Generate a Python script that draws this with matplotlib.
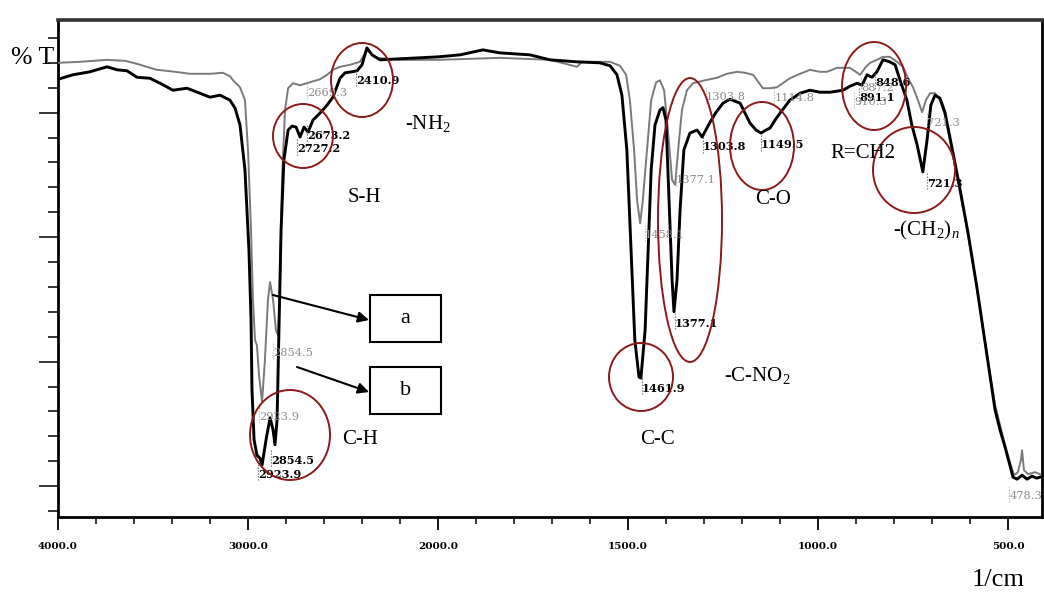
import numpy as np
import matplotlib
matplotlib.use("Agg")
import matplotlib.pyplot as plt
from matplotlib.patches import Ellipse, Rectangle, FancyArrowPatch

plt.rcParams['mathtext.fontset'] = 'custom'
plt.rcParams['mathtext.rm'] = 'Liberation Serif'
plt.rcParams['mathtext.it'] = 'Liberation Serif:italic'

# ---------------- data (wavenumber 1/cm, transmittance arbitrary %T) ----------------
wn_b = [4000, 3921, 3832, 3742, 3689, 3637, 3584, 3516, 3463, 3395, 3321, 3253, 3200, 3147,
        3095, 3068, 3042, 3016, 2995, 2984, 2979, 2968, 2953, 2937, 2926, 2905, 2884, 2868,
        2858, 2847, 2837, 2826, 2811, 2789, 2768, 2747, 2726, 2705, 2684, 2658, 2621, 2584,
        2553, 2516, 2489, 2453, 2426, 2400, 2374, 2347, 2305, 2200, 2095, 2000, 1942, 1882,
        1837, 1758, 1705, 1634, 1574, 1547, 1529, 1516, 1503, 1492, 1482, 1471, 1466, 1455,
        1447, 1439, 1429, 1416, 1408, 1400, 1392, 1384, 1379, 1371, 1363, 1353, 1337, 1318,
        1305, 1284, 1268, 1250, 1232, 1205, 1179, 1163, 1150, 1137, 1126, 1113, 1100, 1074,
        1047, 1021, 995, 968, 934, 916, 897, 884, 871, 858, 845, 829, 811, 797, 784, 766,
        753, 739, 724, 713, 703, 692, 679, 666, 653, 640, 626, 605, 582, 556, 534, 521, 508,
        495, 487, 476, 463, 450, 437, 424, 416]
t_b = [86.7, 87.6, 88.2, 89.2, 88.6, 88.4, 87.1, 86.9, 85.9, 84.5, 84.9, 83.9, 83.1, 83.5,
       82.5, 80.9, 77.5, 68.5, 52.4, 38.4, 24.3, 14.3, 11.2, 10.6, 9.2, 14.3, 18.7, 16.3,
       13.3, 18.3, 36.3, 56.4, 70.5, 76.5, 77.3, 77.1, 75.1, 77.1, 76.1, 78.5, 79.9, 81.5,
       83.1, 86.9, 88.0, 88.2, 88.4, 89.6, 93.0, 91.6, 90.6, 90.8, 91.0, 91.2, 91.6, 92.6,
       92.0, 91.6, 90.6, 90.2, 90.0, 89.4, 87.6, 83.5, 72.5, 52.4, 34.3, 26.9, 26.7, 36.3,
       52.4, 68.5, 77.5, 80.5, 81.0, 78.5, 62.4, 46.4, 40.0, 46.4, 60.4, 72.5, 75.9, 76.5,
       75.1, 78.1, 80.1, 81.9, 82.7, 81.9, 77.9, 76.5, 75.9, 76.5, 76.9, 78.5, 79.9, 82.5,
       83.9, 84.5, 84.1, 84.1, 84.5, 85.3, 85.9, 85.5, 87.6, 87.1, 88.2, 90.6, 90.2, 89.6,
       86.5, 82.5, 77.5, 73.5, 68.1, 74.5, 81.5, 83.5, 82.9, 80.1, 75.1, 70.1, 64.5, 55.8,
       45.0, 31.7, 20.3, 16.3, 12.9, 9.2, 6.8, 6.4, 7.2, 6.4, 7.0, 6.6, 6.8]

wn_a = [4000, 3884, 3742, 3647, 3584, 3516, 3479, 3384, 3305, 3200, 3132, 3095, 3079, 3042,
        3016, 3000, 2984, 2974, 2963, 2953, 2942, 2926, 2911, 2895, 2884, 2868, 2853, 2842,
        2832, 2821, 2805, 2789, 2763, 2726, 2674, 2621, 2584, 2553, 2516, 2463, 2411, 2374,
        2347, 2321, 2200, 2000, 1837, 1705, 1634, 1621, 1547, 1521, 1505, 1495, 1484, 1476,
        1468, 1461, 1450, 1439, 1426, 1416, 1405, 1395, 1384, 1376, 1368, 1358, 1345, 1329,
        1297, 1266, 1240, 1213, 1192, 1171, 1145, 1126, 1108, 1074, 1047, 1021, 995, 976,
        950, 916, 889, 876, 863, 845, 829, 811, 792, 776, 763, 750, 737, 726, 716, 705, 692,
        679, 666, 653, 640, 626, 605, 582, 556, 534, 521, 508, 495, 484, 474, 466, 463, 458,
        447, 429, 416]
t_a = [90.0, 90.2, 90.6, 90.4, 89.8, 89.0, 88.6, 88.2, 87.8, 87.8, 88.0, 87.3, 86.5, 85.1,
       82.5, 72.5, 56.4, 42.4, 34.3, 33.3, 27.3, 21.9, 30.3, 42.4, 46.0, 42.4, 36.3, 35.3,
       44.4, 66.5, 80.5, 84.9, 85.9, 85.5, 86.1, 86.7, 87.6, 88.6, 89.2, 89.6, 90.2, 92.6,
       91.6, 91.0, 90.6, 90.6, 91.0, 90.6, 89.2, 90.2, 90.2, 89.4, 87.6, 82.5, 72.5, 62.4,
       57.8, 62.4, 72.5, 82.5, 86.1, 86.5, 84.5, 76.5, 66.5, 65.5, 72.5, 80.5, 84.5, 85.9,
       86.5, 87.0, 87.8, 88.2, 88.0, 87.6, 84.9, 84.9, 85.1, 86.9, 87.8, 88.6, 88.2, 88.2,
       89.0, 89.0, 87.6, 89.0, 90.0, 90.6, 91.2, 91.2, 90.2, 89.2, 86.9, 85.1, 82.5, 80.1,
       82.5, 83.9, 83.9, 82.5, 79.5, 74.5, 69.5, 64.1, 55.4, 44.8, 31.7, 21.3, 17.3, 13.3,
       9.8, 7.2, 7.8, 10.2, 12.2, 8.2, 7.4, 7.8, 7.4]

# peak labels: (text, wavenumber position, %T position)
labels_b = [("2410.9", 2430, 86.5), ("2673.2", 2690, 75.5), ("2727.2", 2742, 72.7),
            ("2854.5", 2880, 10.2), ("2923.9", 2945, 7.4), ("1461.9", 1464, 24.7),
            ("1377.1", 1377, 37.7), ("1303.8", 1303, 73.1), ("1149.5", 1150, 73.5),
            ("848.6", 850, 86.0), ("891.1", 892, 83.0), ("721.3", 713, 65.8)]
labels_a = [("2669.3", 2690, 84.0), ("2854.5", 2870, 31.7), ("2923.9", 2940, 18.8),
            ("1458.1", 1455, 55.4), ("1377.1", 1374, 66.5), ("1303.8", 1295, 83.1),
            ("1114.8", 1115, 82.9), ("887.2", 886, 84.9), ("910.3", 905, 82.1),
            ("721.3", 713, 77.9), ("478.3", 497, 3.0)]

xticks_major = [4000, 3000, 2000, 1500, 1000, 500]
xtick_labels = ["4000.0", "3000.0", "2000.0", "1500.0", "1000.0", "500.0"]
xticks_minor = list(range(3800, 2000, -200)) + list(range(1900, 400, -100))


def fwd(x):
    x = np.asarray(x, dtype=float)
    return np.where(x >= 2000, (x - 2000) / 1000.0, (x - 2000) / 500.0)


def inv(u):
    u = np.asarray(u, dtype=float)
    return np.where(u >= 0, 2000 + 1000.0 * u, 2000 + 500.0 * u)


W, H = 1044, 597
fig = plt.figure(figsize=(W / 100, H / 100), dpi=100)
ax = fig.add_axes([58 / W, 1 - 517 / H, 984 / W, 497 / H])
ax.set_xscale('function', functions=(fwd, inv))
ax.set_xlim(4000, 410.5)
ax.set_ylim(-1.2, 98.6)

ax.plot(wn_a, t_a, color='#7a7a7a', lw=1.4, zorder=3)
ax.plot(wn_b, t_b, color='black', lw=2.1, zorder=4)

ax.set_xticks(xticks_major)
ax.set_xticklabels(xtick_labels, fontfamily='DejaVu Serif', fontweight='bold', fontsize=7.5)
ax.set_xticks(xticks_minor, minor=True)
ax.set_yticks([5, 30, 55, 80])
ax.set_yticklabels([])
ax.set_yticks(list(range(0, 100, 5)), minor=True)
ax.tick_params(axis='x', which='major', direction='out', length=9, width=1.3, pad=9)
ax.tick_params(axis='x', which='minor', direction='out', length=5, width=1.1)
ax.tick_params(axis='y', which='major', direction='out', length=14, width=1.1)
ax.tick_params(axis='y', which='minor', direction='out', length=7, width=1.1)
for s in ax.spines.values():
    s.set_linewidth(2.0)
ax.spines['top'].set_linewidth(2.6)
ax.spines['top'].set_color('#333333')

for txt, x, y in labels_b:
    ax.text(x, y, txt, fontfamily='DejaVu Serif', fontweight='bold', fontsize=8.2,
            color='black', ha='left', va='center', zorder=5)
    ax.plot([x, x], [y - 1.2, y + 2.2], ls=':', lw=0.8, color='#555555', zorder=5)
for txt, x, y in labels_a:
    ax.text(x, y, txt, fontfamily='DejaVu Serif', fontsize=8.2,
            color='#8c8c8c', ha='left', va='center', zorder=5)
    ax.plot([x, x], [y - 1.2, y + 2.2], ls=':', lw=0.8, color='#aaaaaa', zorder=5)


def fp(x, y):
    return (x / W, 1 - y / H)


serif = 'Liberation Serif'
big = [("% T", 11, 58, 18.5), ("-NH$_2$", 405, 123, 15), ("S-H", 348, 197, 15),
       ("C-H", 342, 440, 15), ("C-C", 640, 440, 15), ("-C-NO$_2$", 724, 375, 15),
       ("C-O", 755, 200, 15), ("R=CH2", 830, 153, 15), ("-(CH$_2$)$_n$", 893, 230, 15),
       ("1/cm", 972, 580, 19)]
for txt, x, y, fs in big:
    fig.text(*fp(x, y), txt, fontfamily=serif, fontsize=fs, ha='left', va='center', zorder=6)

ellipses = [(303, 136, 30, 32), (362, 80, 31, 37), (290, 435, 40, 45), (641, 377, 32, 34),
            (690, 220, 32, 142), (762, 146, 32, 44), (874, 86, 32, 44), (914, 170, 41, 43)]
for cx, cy, rx, ry in ellipses:
    fig.patches.append(Ellipse(fp(cx, cy), 2 * rx / W, 2 * ry / H, transform=fig.transFigure,
                               fill=False, edgecolor='#8b1a1a', lw=1.4, zorder=6))

for (x0, y0, x1, y1, lab) in [(370, 295, 441, 342, 'a'), (370, 367, 441, 414, 'b')]:
    fig.patches.append(Rectangle(fp(x0, y1), (x1 - x0) / W, (y1 - y0) / H,
                                 transform=fig.transFigure, fill=True, facecolor='white',
                                 edgecolor='black', lw=1.5, zorder=6))
    fig.text(*fp((x0 + x1) / 2, (y0 + y1) / 2), lab, fontfamily=serif, fontsize=16,
             ha='center', va='center', zorder=7)

for (xa, ya, xb, yb) in [(273, 295, 369, 320), (297, 367, 369, 392)]:
    fig.patches.append(FancyArrowPatch(fp(xa, ya), fp(xb, yb), transform=fig.transFigure,
                                       arrowstyle='-|>', mutation_scale=16, lw=1.5,
                                       color='black', shrinkA=0, shrinkB=0, zorder=7))

fig.savefig('out.png', dpi=100)
